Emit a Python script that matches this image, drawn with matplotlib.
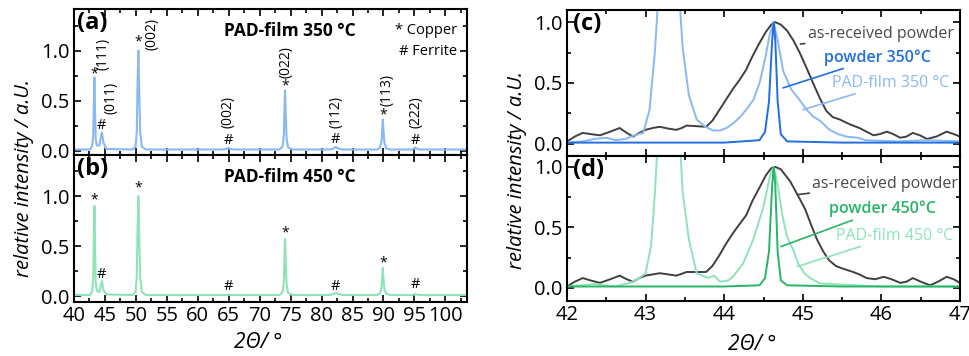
import matplotlib
matplotlib.use("Agg")
from matplotlib import pyplot as plt
from matplotlib.ticker import MultipleLocator, FormatStrFormatter

plt.rcParams['font.family'] = ['Open Sans', 'DejaVu Sans']

# colours
c_film350 = '#8ab8f2'
c_pow350 = '#1f6fe0'
c_film450 = '#8fe3b8'
c_pow450 = '#27b566'
c_grey = '#404040'

# ---- panel (a): PAD-film 350 C, wide scan
tt_a = [40, 42.6, 42.95, 43.1, 43.2, 43.3, 43.4, 43.5, 43.7, 44.1, 44.3, 44.5, 44.75, 45.2,
        49.5, 49.95, 50.15, 50.25, 50.4, 50.55, 50.7, 50.95, 51.6, 63.8, 64.6, 64.9, 65.2, 66.0,
        73.2, 73.7, 73.9, 74.0, 74.1, 74.2, 74.35, 74.6, 75.3, 81.4, 81.9, 82.3, 82.7, 83.3,
        89.0, 89.45, 89.7, 89.8, 89.9, 90.0, 90.15, 90.45, 91.1, 94.6, 94.95, 95.1, 95.3, 95.8,
        103.5]
int_a = [0.01, 0.01, 0.05, 0.15, 0.45, 0.73, 0.4, 0.12, 0.05, 0.05, 0.12, 0.18, 0.08, 0.015,
         0.01, 0.04, 0.2, 0.6, 1.0, 0.55, 0.18, 0.04, 0.01, 0.01, 0.015, 0.025, 0.015, 0.01,
         0.01, 0.04, 0.15, 0.4, 0.6, 0.38, 0.12, 0.03, 0.01, 0.01, 0.02, 0.035, 0.02, 0.01,
         0.01, 0.03, 0.1, 0.2, 0.31, 0.2, 0.08, 0.02, 0.01, 0.01, 0.02, 0.03, 0.02, 0.01,
         0.01]

# ---- panel (b): PAD-film 450 C, wide scan
tt_b = tt_a
int_b = [0.01, 0.01, 0.05, 0.18, 0.55, 0.9, 0.5, 0.14, 0.05, 0.04, 0.1, 0.15, 0.06, 0.015,
         0.01, 0.04, 0.2, 0.6, 1.0, 0.55, 0.18, 0.04, 0.01, 0.01, 0.01, 0.015, 0.01, 0.01,
         0.01, 0.04, 0.14, 0.38, 0.57, 0.36, 0.11, 0.03, 0.01, 0.01, 0.02, 0.03, 0.02, 0.01,
         0.01, 0.03, 0.09, 0.18, 0.28, 0.18, 0.07, 0.02, 0.01, 0.01, 0.015, 0.02, 0.015, 0.01,
         0.01]

# peak markers
mark_pos = [43.3, 44.5, 50.4, 64.9, 74.1, 82.3, 89.9, 95.1]
mark_sym = ['*', '#', '*', '#', '*', '#', '*', '#']
mark_y_a = [0.77, 0.25, 1.09, 0.1, 0.65, 0.11, 0.36, 0.1]
mark_y_b = [0.96, 0.21, 1.08, 0.1, 0.63, 0.1, 0.33, 0.11]
hkl = ['(111)', '(011)', '(002)', '(002)', '(022)', '(112)', '(113)', '(222)']
hkl_x = [44.7, 45.9, 52.6, 64.9, 74.3, 82.4, 90.5, 95.2]
hkl_y = [0.81, 0.36, 1.0, 0.22, 0.73, 0.22, 0.45, 0.22]

# ---- panels (c)/(d): zoom around 44.6 deg
tt_grey_c = [42.0, 42.1, 42.2, 42.3, 42.42, 42.55, 42.67, 42.76, 42.84, 42.92, 43.0, 43.09,
             43.18, 43.29, 43.39, 43.46, 43.52, 43.65, 43.77, 43.85, 43.94, 44.02, 44.11, 44.2,
             44.28, 44.36, 44.45, 44.53, 44.6, 44.65, 44.72, 44.8, 44.88, 44.96, 45.05, 45.13,
             45.22, 45.3, 45.38, 45.47, 45.6, 45.72, 45.81, 45.9, 45.98, 46.07, 46.15, 46.24,
             46.32, 46.4, 46.49, 46.58, 46.7, 46.83, 46.92, 47.0]
int_grey_c = [0.02, 0.06, 0.09, 0.08, 0.07, 0.1, 0.13, 0.09, 0.06, 0.09, 0.115, 0.13,
              0.14, 0.125, 0.115, 0.13, 0.15, 0.145, 0.14, 0.19, 0.28, 0.36, 0.45, 0.53,
              0.61, 0.72, 0.83, 0.92, 0.98, 1.0, 0.98, 0.93, 0.85, 0.75, 0.62, 0.5,
              0.37, 0.27, 0.22, 0.2, 0.16, 0.13, 0.1, 0.07, 0.08, 0.1, 0.08, 0.05,
              0.06, 0.09, 0.07, 0.04, 0.06, 0.1, 0.08, 0.06]
tt_grey_d = [42.0, 42.1, 42.2, 42.3, 42.42, 42.55, 42.67, 42.76, 42.84, 42.92, 43.0, 43.09,
             43.18, 43.29, 43.39, 43.46, 43.52, 43.65, 43.77, 43.85, 43.94, 44.02, 44.11, 44.2,
             44.28, 44.36, 44.45, 44.53, 44.6, 44.65, 44.72, 44.84, 44.94, 45.03, 45.1, 45.18,
             45.26, 45.33, 45.42, 45.5, 45.64, 45.72, 45.81, 45.92, 46.03, 46.13, 46.24, 46.32,
             46.4, 46.5, 46.62, 46.72, 46.83, 46.92, 47.0]
int_grey_d = [0.01, 0.05, 0.08, 0.06, 0.04, 0.07, 0.1, 0.07, 0.05, 0.08, 0.1, 0.11,
              0.12, 0.11, 0.1, 0.115, 0.13, 0.13, 0.13, 0.18, 0.27, 0.36, 0.45, 0.53,
              0.6, 0.72, 0.83, 0.93, 0.99, 1.0, 0.98, 0.88, 0.76, 0.65, 0.53, 0.4,
              0.3, 0.23, 0.18, 0.16, 0.13, 0.11, 0.08, 0.07, 0.09, 0.07, 0.04, 0.05,
              0.08, 0.05, 0.02, 0.05, 0.09, 0.07, 0.04]

tt_film_c = [42.0, 42.2, 42.35, 42.5, 42.62, 42.75, 42.85, 42.97, 43.05, 43.12, 43.17, 43.3,
             43.42, 43.47, 43.55, 43.65, 43.76, 43.86, 43.95, 44.03, 44.12, 44.2, 44.28, 44.37,
             44.45, 44.52, 44.58, 44.63, 44.68, 44.75, 44.85, 44.96, 45.05, 45.13, 45.22, 45.34,
             45.45, 45.55, 45.7, 45.8, 46.2, 46.6, 47.0]
int_film_c = [0.01, 0.02, 0.04, 0.05, 0.03, 0.04, 0.07, 0.09, 0.28, 0.77, 1.3, 3.0,
              1.3, 0.8, 0.4, 0.2, 0.14, 0.11, 0.11, 0.13, 0.17, 0.22, 0.28, 0.36,
              0.5, 0.7, 0.9, 1.0, 0.85, 0.6, 0.45, 0.36, 0.28, 0.225, 0.19, 0.115,
              0.08, 0.06, 0.05, 0.03, 0.02, 0.03, 0.02]
tt_film_d = [42.0, 42.35, 42.6, 42.8, 42.92, 43.0, 43.07, 43.12, 43.16, 43.3, 43.43, 43.47,
             43.55, 43.65, 43.8, 43.87, 43.95, 44.05, 44.11, 44.24, 44.37, 44.5, 44.58, 44.63,
             44.68, 44.74, 44.8, 44.88, 44.94, 45.02, 45.09, 45.22, 46.0, 47.0]
int_film_d = [0.01, 0.03, 0.01, 0.04, 0.08, 0.12, 0.35, 0.8, 1.3, 3.0, 1.3, 0.8,
              0.4, 0.12, 0.08, 0.1, 0.05, 0.06, 0.09, 0.2, 0.4, 0.67, 0.92, 1.0,
              0.85, 0.6, 0.42, 0.31, 0.2, 0.12, 0.08, 0.035, 0.01, 0.01]

tt_pow = [42.0, 43.0, 44.0, 44.45, 44.52, 44.57, 44.61, 44.63, 44.65, 44.68, 44.72, 44.8, 45.5, 47.0]
int_pow_c = [0.01, 0.01, 0.01, 0.03, 0.1, 0.35, 0.85, 1.0, 0.85, 0.35, 0.08, 0.02, 0.01, 0.01]
int_pow_d = [0.01, 0.01, 0.01, 0.02, 0.08, 0.3, 0.85, 1.0, 0.85, 0.3, 0.06, 0.02, 0.01, 0.01]

fig = plt.figure(figsize=(9.69, 3.56), dpi=100)
W, H = 969.0, 356.0


def add_ax(x0, x1, y0, y1):
    return fig.add_axes([x0 / W, 1 - y1 / H, (x1 - x0) / W, (y1 - y0) / H])


ax_a = add_ax(74, 467, 9, 155)
ax_b = add_ax(74, 467, 155, 302)
ax_c = add_ax(567, 960, 10, 156)
ax_d = add_ax(567, 960, 156, 301)

for ax in (ax_a, ax_b, ax_c, ax_d):
    ax.tick_params(which='both', direction='in', top=True, right=True, labelsize=14.5,
                   width=1.2, pad=3)
    ax.tick_params(which='major', length=5)
    ax.tick_params(which='minor', length=3)
    for s in ax.spines.values():
        s.set_linewidth(1.5)
    ax.yaxis.set_major_locator(MultipleLocator(0.5))
    ax.yaxis.set_minor_locator(MultipleLocator(0.25))
    ax.yaxis.set_major_formatter(FormatStrFormatter('%.1f'))

for ax in (ax_a, ax_b):
    ax.set_xlim(40, 103.5)
    ax.xaxis.set_major_locator(MultipleLocator(5))
    ax.xaxis.set_minor_locator(MultipleLocator(2.5))
for ax in (ax_c, ax_d):
    ax.set_xlim(42, 47)
    ax.xaxis.set_major_locator(MultipleLocator(1))
    ax.xaxis.set_minor_locator(MultipleLocator(0.5))

ax_a.set_ylim(-0.045, 1.415)
ax_b.set_ylim(-0.06, 1.41)
ax_c.set_ylim(-0.1, 1.1)
ax_d.set_ylim(-0.11, 1.09)
ax_a.tick_params(labelbottom=False)
ax_c.tick_params(labelbottom=False)

# wide scans
ax_a.plot(tt_a, int_a, color=c_film350, lw=1.5)
ax_b.plot(tt_b, int_b, color=c_film450, lw=1.5)

for i in range(len(mark_pos)):
    fs = 10 if mark_sym[i] == '*' else 10.5
    ax_a.text(mark_pos[i], mark_y_a[i], mark_sym[i], ha='center', va='center', fontsize=fs)
    ax_b.text(mark_pos[i], mark_y_b[i], mark_sym[i], ha='center', va='center', fontsize=fs)
    ax_a.text(hkl_x[i], hkl_y[i], hkl[i], rotation=90, ha='center', va='bottom', fontsize=10)

ax_a.text(0.008, 0.985, '(a)', transform=ax_a.transAxes, fontsize=17, fontweight='bold',
          ha='left', va='top')
ax_b.text(0.008, 0.985, '(b)', transform=ax_b.transAxes, fontsize=17, fontweight='bold',
          ha='left', va='top')
ax_a.text(0.55, 0.85, 'PAD-film 350 °C', transform=ax_a.transAxes, fontsize=12.5,
          fontweight='bold', ha='center', va='center')
ax_b.text(0.55, 0.85, 'PAD-film 450 °C', transform=ax_b.transAxes, fontsize=12.5,
          fontweight='bold', ha='center', va='center')
ax_a.text(0.975, 0.85, '* Copper', transform=ax_a.transAxes, fontsize=10.5, ha='right', va='center')
ax_a.text(0.975, 0.71, '# Ferrite', transform=ax_a.transAxes, fontsize=10.5, ha='right', va='center')

# zoomed scans
ax_c.plot(tt_grey_c, int_grey_c, color=c_grey, lw=1.4)
ax_c.plot(tt_film_c, int_film_c, color=c_film350, lw=1.4)
ax_c.plot(tt_pow, int_pow_c, color=c_pow350, lw=1.4)
ax_d.plot(tt_grey_d, int_grey_d, color=c_grey, lw=1.4)
ax_d.plot(tt_film_d, int_film_d, color=c_film450, lw=1.4)
ax_d.plot(tt_pow, int_pow_d, color=c_pow450, lw=1.4)

ax_c.text(0.015, 0.985, '(c)', transform=ax_c.transAxes, fontsize=17, fontweight='bold',
          ha='left', va='top')
ax_d.text(0.015, 0.985, '(d)', transform=ax_d.transAxes, fontsize=17, fontweight='bold',
          ha='left', va='top')

ax_c.annotate('as-received powder', xy=(44.97, 0.82), xytext=(45.06, 0.9), color='#4a4a4a',
              fontsize=11.5, ha='left', va='center',
              arrowprops=dict(arrowstyle='-', color=c_grey, lw=1.2, shrinkA=0, shrinkB=0))
ax_c.annotate('powder 350°C', xy=(44.75, 0.46), xytext=(45.27, 0.71), color=c_pow350,
              fontsize=11.5, fontweight='semibold', ha='left', va='center',
              arrowprops=dict(arrowstyle='-', color=c_pow350, lw=1.2, shrinkA=0, shrinkB=0))
ax_c.annotate('PAD-film 350 °C', xy=(45.0, 0.28), xytext=(45.37, 0.5), color=c_film350,
              fontsize=11.5, ha='left', va='center',
              arrowprops=dict(arrowstyle='-', color=c_film350, lw=1.2, shrinkA=0, shrinkB=0))

ax_d.annotate('as-received powder', xy=(44.93, 0.77), xytext=(45.12, 0.86), color='#4a4a4a',
              fontsize=11.5, ha='left', va='center',
              arrowprops=dict(arrowstyle='-', color=c_grey, lw=1.2, shrinkA=0, shrinkB=0))
ax_d.annotate('powder 450°C', xy=(44.72, 0.34), xytext=(45.33, 0.65), color=c_pow450,
              fontsize=11.5, fontweight='semibold', ha='left', va='center',
              arrowprops=dict(arrowstyle='-', color=c_pow450, lw=1.2, shrinkA=0, shrinkB=0))
ax_d.annotate('PAD-film 450 °C', xy=(44.93, 0.175), xytext=(45.42, 0.43), color=c_film450,
              fontsize=11.5, ha='left', va='center',
              arrowprops=dict(arrowstyle='-', color=c_film450, lw=1.2, shrinkA=0, shrinkB=0))

# axis labels
fig.text(24 / W, 1 - 178 / H, 'relative intensity / a.U.', rotation=90, style='italic',
         fontsize=14.5, ha='center', va='center')
fig.text(517 / W, 1 - 170 / H, 'relative intensity / a.U.', rotation=90, style='italic',
         fontsize=14.5, ha='center', va='center')
fig.text(258 / W, 1 - 342 / H, '2Θ/ °', style='italic', fontsize=15, ha='center', va='center')
fig.text(752 / W, 1 - 345 / H, '2Θ/ °', style='italic', fontsize=15, ha='center', va='center')

fig.savefig('out.png', dpi=100)
